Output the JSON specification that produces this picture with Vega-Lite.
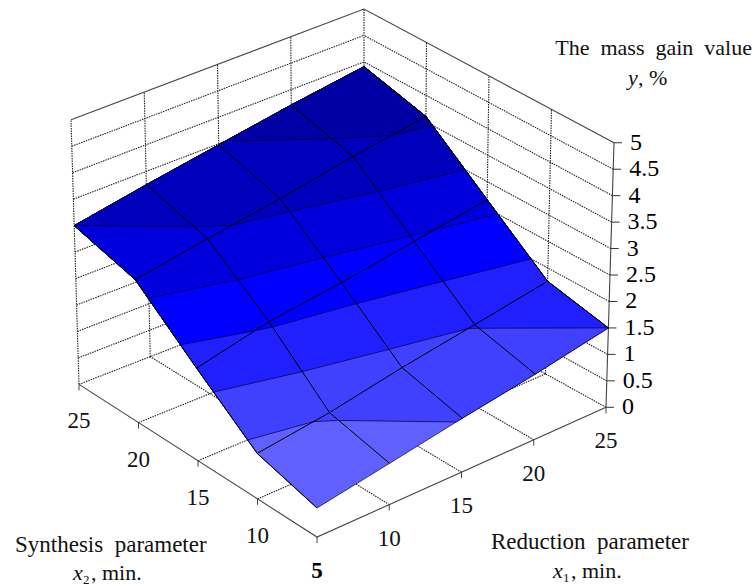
{"$schema":"https://vega.github.io/schema/vega-lite/v6.json","width":755,"height":587,"padding":0,"autosize":{"type":"fit","contains":"padding"},"background":"white","view":{"stroke":null},
"datasets":{
"surfaceBands":[
{"band":"0.5","s":1,"x1":5,"x2":5,"y":0.55},{"band":"0.5","s":2,"x1":10,"x2":5,"y":0.78},{"band":"0.5","s":3,"x1":15,"x2":5,"y":1.02},{"band":"0.5","s":4,"x1":20,"x2":5,"y":1.24},{"band":"0.5","s":5,"x1":25,"x2":5,"y":1.5},{"band":"0.5","s":6,"x1":25,"x2":10,"y":1.75},{"band":"0.5","s":7,"x1":25,"x2":15,"y":2.66},{"band":"0.5","s":8,"x1":25,"x2":20,"y":3.6},{"band":"0.5","s":9,"x1":25,"x2":25,"y":3.91},{"band":"0.5","s":10,"x1":20,"x2":25,"y":3.71},{"band":"0.5","s":11,"x1":15,"x2":25,"y":3.48},{"band":"0.5","s":12,"x1":10,"x2":25,"y":3.25},{"band":"0.5","s":13,"x1":5,"x2":25,"y":3},{"band":"0.5","s":14,"x1":5,"x2":20,"y":2.7},{"band":"0.5","s":15,"x1":5,"x2":15,"y":1.75},{"band":"0.5","s":16,"x1":5,"x2":10,"y":0.86},
{"band":"1","s":1,"x1":5,"x2":10.785,"y":1},{"band":"1","s":2,"x1":8.89,"x2":10,"y":1},{"band":"1","s":3,"x1":10,"x2":9.23,"y":1},{"band":"1","s":4,"x1":14.585,"x2":5,"y":1},{"band":"1","s":5,"x1":15,"x2":5,"y":1.02},{"band":"1","s":6,"x1":20,"x2":5,"y":1.24},{"band":"1","s":7,"x1":25,"x2":5,"y":1.5},{"band":"1","s":8,"x1":25,"x2":10,"y":1.75},{"band":"1","s":9,"x1":25,"x2":15,"y":2.66},{"band":"1","s":10,"x1":25,"x2":20,"y":3.6},{"band":"1","s":11,"x1":25,"x2":25,"y":3.91},{"band":"1","s":12,"x1":20,"x2":25,"y":3.71},{"band":"1","s":13,"x1":15,"x2":25,"y":3.48},{"band":"1","s":14,"x1":10,"x2":25,"y":3.25},{"band":"1","s":15,"x1":5,"x2":25,"y":3},{"band":"1","s":16,"x1":5,"x2":20,"y":2.7},{"band":"1","s":17,"x1":5,"x2":15,"y":1.75},
{"band":"1.5","s":1,"x1":5,"x2":13.595,"y":1.5},{"band":"1.5","s":2,"x1":10,"x2":12.255,"y":1.5},{"band":"1.5","s":3,"x1":15,"x2":11.075,"y":1.5},{"band":"1.5","s":4,"x1":19.545,"x2":10,"y":1.5},{"band":"1.5","s":5,"x1":20,"x2":9.645,"y":1.5},{"band":"1.5","s":6,"x1":25,"x2":5,"y":1.5},{"band":"1.5","s":7,"x1":25,"x2":10,"y":1.75},{"band":"1.5","s":8,"x1":25,"x2":15,"y":2.66},{"band":"1.5","s":9,"x1":25,"x2":20,"y":3.6},{"band":"1.5","s":10,"x1":25,"x2":25,"y":3.91},{"band":"1.5","s":11,"x1":20,"x2":25,"y":3.71},{"band":"1.5","s":12,"x1":15,"x2":25,"y":3.48},{"band":"1.5","s":13,"x1":10,"x2":25,"y":3.25},{"band":"1.5","s":14,"x1":5,"x2":25,"y":3},{"band":"1.5","s":15,"x1":5,"x2":20,"y":2.7},{"band":"1.5","s":16,"x1":5,"x2":15,"y":1.75},
{"band":"2","s":1,"x1":5,"x2":16.315,"y":2},{"band":"2","s":2,"x1":9.03,"x2":15,"y":2},{"band":"2","s":3,"x1":10,"x2":14.705,"y":2},{"band":"2","s":4,"x1":15,"x2":13.765,"y":2},{"band":"2","s":5,"x1":20,"x2":12.61,"y":2},{"band":"2","s":6,"x1":25,"x2":11.375,"y":2},{"band":"2","s":7,"x1":25,"x2":15,"y":2.66},{"band":"2","s":8,"x1":25,"x2":20,"y":3.6},{"band":"2","s":9,"x1":25,"x2":25,"y":3.91},{"band":"2","s":10,"x1":20,"x2":25,"y":3.71},{"band":"2","s":11,"x1":15,"x2":25,"y":3.48},{"band":"2","s":12,"x1":10,"x2":25,"y":3.25},{"band":"2","s":13,"x1":5,"x2":25,"y":3},{"band":"2","s":14,"x1":5,"x2":20,"y":2.7},
{"band":"2.5","s":1,"x1":5,"x2":18.945,"y":2.5},{"band":"2.5","s":2,"x1":10,"x2":17.53,"y":2.5},{"band":"2.5","s":3,"x1":15,"x2":16.485,"y":2.5},{"band":"2.5","s":4,"x1":20,"x2":15.315,"y":2.5},{"band":"2.5","s":5,"x1":21.365,"x2":15,"y":2.5},{"band":"2.5","s":6,"x1":25,"x2":14.12,"y":2.5},{"band":"2.5","s":7,"x1":25,"x2":15,"y":2.66},{"band":"2.5","s":8,"x1":25,"x2":20,"y":3.6},{"band":"2.5","s":9,"x1":25,"x2":25,"y":3.91},{"band":"2.5","s":10,"x1":20,"x2":25,"y":3.71},{"band":"2.5","s":11,"x1":15,"x2":25,"y":3.48},{"band":"2.5","s":12,"x1":10,"x2":25,"y":3.25},{"band":"2.5","s":13,"x1":5,"x2":25,"y":3},{"band":"2.5","s":14,"x1":5,"x2":20,"y":2.7},
{"band":"3","s":1,"x1":5,"x2":25,"y":3},{"band":"3","s":2,"x1":10,"x2":21.095,"y":3},{"band":"3","s":3,"x1":11.665,"x2":20,"y":3},{"band":"3","s":4,"x1":15,"x2":19.23,"y":3},{"band":"3","s":5,"x1":20,"x2":17.945,"y":3},{"band":"3","s":6,"x1":25,"x2":16.81,"y":3},{"band":"3","s":7,"x1":25,"x2":20,"y":3.6},{"band":"3","s":8,"x1":25,"x2":25,"y":3.91},{"band":"3","s":9,"x1":20,"x2":25,"y":3.71},{"band":"3","s":10,"x1":15,"x2":25,"y":3.48},{"band":"3","s":11,"x1":10,"x2":25,"y":3.25},
{"band":"3.5","s":1,"x1":15.435,"x2":25,"y":3.5},{"band":"3.5","s":2,"x1":20,"x2":21.72,"y":3.5},{"band":"3.5","s":3,"x1":22.62,"x2":20,"y":3.5},{"band":"3.5","s":4,"x1":25,"x2":19.47,"y":3.5},{"band":"3.5","s":5,"x1":25,"x2":20,"y":3.6},{"band":"3.5","s":6,"x1":25,"x2":25,"y":3.91},{"band":"3.5","s":7,"x1":20,"x2":25,"y":3.71}
],
"surfaceGrid":[
{"g":"a5","s":1,"x1":5,"x2":5,"y":0.55},{"g":"a5","s":2,"x1":5,"x2":10,"y":0.86},{"g":"a5","s":3,"x1":5,"x2":15,"y":1.75},{"g":"a5","s":4,"x1":5,"x2":20,"y":2.7},{"g":"a5","s":5,"x1":5,"x2":25,"y":3},
{"g":"a10","s":1,"x1":10,"x2":5,"y":0.78},{"g":"a10","s":2,"x1":10,"x2":10,"y":1.04},{"g":"a10","s":3,"x1":10,"x2":15,"y":2.06},{"g":"a10","s":4,"x1":10,"x2":20,"y":2.93},{"g":"a10","s":5,"x1":10,"x2":25,"y":3.25},
{"g":"a15","s":1,"x1":15,"x2":5,"y":1.02},{"g":"a15","s":2,"x1":15,"x2":10,"y":1.3},{"g":"a15","s":3,"x1":15,"x2":15,"y":2.23},{"g":"a15","s":4,"x1":15,"x2":20,"y":3.14},{"g":"a15","s":5,"x1":15,"x2":25,"y":3.48},
{"g":"a20","s":1,"x1":20,"x2":5,"y":1.24},{"g":"a20","s":2,"x1":20,"x2":10,"y":1.52},{"g":"a20","s":3,"x1":20,"x2":15,"y":2.44},{"g":"a20","s":4,"x1":20,"x2":20,"y":3.39},{"g":"a20","s":5,"x1":20,"x2":25,"y":3.71},
{"g":"a25","s":1,"x1":25,"x2":5,"y":1.5},{"g":"a25","s":2,"x1":25,"x2":10,"y":1.75},{"g":"a25","s":3,"x1":25,"x2":15,"y":2.66},{"g":"a25","s":4,"x1":25,"x2":20,"y":3.6},{"g":"a25","s":5,"x1":25,"x2":25,"y":3.91},
{"g":"b10","s":1,"x1":5,"x2":10,"y":0.86},{"g":"b10","s":2,"x1":10,"x2":10,"y":1.04},{"g":"b10","s":3,"x1":15,"x2":10,"y":1.3},{"g":"b10","s":4,"x1":20,"x2":10,"y":1.52},{"g":"b10","s":5,"x1":25,"x2":10,"y":1.75},
{"g":"b15","s":1,"x1":5,"x2":15,"y":1.75},{"g":"b15","s":2,"x1":10,"x2":15,"y":2.06},{"g":"b15","s":3,"x1":15,"x2":15,"y":2.23},{"g":"b15","s":4,"x1":20,"x2":15,"y":2.44},{"g":"b15","s":5,"x1":25,"x2":15,"y":2.66},
{"g":"b20","s":1,"x1":5,"x2":20,"y":2.7},{"g":"b20","s":2,"x1":10,"x2":20,"y":2.93},{"g":"b20","s":3,"x1":15,"x2":20,"y":3.14},{"g":"b20","s":4,"x1":20,"x2":20,"y":3.39},{"g":"b20","s":5,"x1":25,"x2":20,"y":3.6}
],
"frame":[
{"g":"lw0.5","s":1,"x1":5,"x2":25,"y":0.5},{"g":"lw0.5","s":2,"x1":25,"x2":25,"y":0.5},{"g":"lw1","s":1,"x1":5,"x2":25,"y":1},{"g":"lw1","s":2,"x1":25,"x2":25,"y":1},{"g":"lw1.5","s":1,"x1":5,"x2":25,"y":1.5},{"g":"lw1.5","s":2,"x1":25,"x2":25,"y":1.5},{"g":"lw2","s":1,"x1":5,"x2":25,"y":2},{"g":"lw2","s":2,"x1":25,"x2":25,"y":2},{"g":"lw2.5","s":1,"x1":5,"x2":25,"y":2.5},{"g":"lw2.5","s":2,"x1":25,"x2":25,"y":2.5},{"g":"lw3","s":1,"x1":5,"x2":25,"y":3},{"g":"lw3","s":2,"x1":25,"x2":25,"y":3},{"g":"lw3.5","s":1,"x1":5,"x2":25,"y":3.5},{"g":"lw3.5","s":2,"x1":25,"x2":25,"y":3.5},{"g":"lw4","s":1,"x1":5,"x2":25,"y":4},{"g":"lw4","s":2,"x1":25,"x2":25,"y":4},{"g":"lw4.5","s":1,"x1":5,"x2":25,"y":4.5},{"g":"lw4.5","s":2,"x1":25,"x2":25,"y":4.5},{"g":"lw0","s":1,"x1":5,"x2":25,"y":0},{"g":"lw0","s":2,"x1":25,"x2":25,"y":0},
{"g":"rw0.5","s":1,"x1":25,"x2":5,"y":0.5},{"g":"rw0.5","s":2,"x1":25,"x2":25,"y":0.5},{"g":"rw1","s":1,"x1":25,"x2":5,"y":1},{"g":"rw1","s":2,"x1":25,"x2":25,"y":1},{"g":"rw1.5","s":1,"x1":25,"x2":5,"y":1.5},{"g":"rw1.5","s":2,"x1":25,"x2":25,"y":1.5},{"g":"rw2","s":1,"x1":25,"x2":5,"y":2},{"g":"rw2","s":2,"x1":25,"x2":25,"y":2},{"g":"rw2.5","s":1,"x1":25,"x2":5,"y":2.5},{"g":"rw2.5","s":2,"x1":25,"x2":25,"y":2.5},{"g":"rw3","s":1,"x1":25,"x2":5,"y":3},{"g":"rw3","s":2,"x1":25,"x2":25,"y":3},{"g":"rw3.5","s":1,"x1":25,"x2":5,"y":3.5},{"g":"rw3.5","s":2,"x1":25,"x2":25,"y":3.5},{"g":"rw4","s":1,"x1":25,"x2":5,"y":4},{"g":"rw4","s":2,"x1":25,"x2":25,"y":4},{"g":"rw4.5","s":1,"x1":25,"x2":5,"y":4.5},{"g":"rw4.5","s":2,"x1":25,"x2":25,"y":4.5},{"g":"rw0","s":1,"x1":25,"x2":5,"y":0},{"g":"rw0","s":2,"x1":25,"x2":25,"y":0},
{"g":"lv5","s":1,"x1":5,"x2":25,"y":0},{"g":"lv5","s":2,"x1":5,"x2":25,"y":5},{"g":"lv10","s":1,"x1":10,"x2":25,"y":0},{"g":"lv10","s":2,"x1":10,"x2":25,"y":5},{"g":"lv15","s":1,"x1":15,"x2":25,"y":0},{"g":"lv15","s":2,"x1":15,"x2":25,"y":5},{"g":"lv20","s":1,"x1":20,"x2":25,"y":0},{"g":"lv20","s":2,"x1":20,"x2":25,"y":5},{"g":"lv25","s":1,"x1":25,"x2":25,"y":0},{"g":"lv25","s":2,"x1":25,"x2":25,"y":5},
{"g":"rv10","s":1,"x1":25,"x2":10,"y":0},{"g":"rv10","s":2,"x1":25,"x2":10,"y":5},{"g":"rv15","s":1,"x1":25,"x2":15,"y":0},{"g":"rv15","s":2,"x1":25,"x2":15,"y":5},{"g":"rv20","s":1,"x1":25,"x2":20,"y":0},{"g":"rv20","s":2,"x1":25,"x2":20,"y":5},
{"g":"fa10","s":1,"x1":10,"x2":5,"y":0},{"g":"fa10","s":2,"x1":10,"x2":25,"y":0},{"g":"fa15","s":1,"x1":15,"x2":5,"y":0},{"g":"fa15","s":2,"x1":15,"x2":25,"y":0},{"g":"fa20","s":1,"x1":20,"x2":5,"y":0},{"g":"fa20","s":2,"x1":20,"x2":25,"y":0},
{"g":"fb10","s":1,"x1":5,"x2":10,"y":0},{"g":"fb10","s":2,"x1":25,"x2":10,"y":0},{"g":"fb15","s":1,"x1":5,"x2":15,"y":0},{"g":"fb15","s":2,"x1":25,"x2":15,"y":0},{"g":"fb20","s":1,"x1":5,"x2":20,"y":0},{"g":"fb20","s":2,"x1":25,"x2":20,"y":0}
],
"solidFrame":[
{"g":"top1","s":1,"x1":5,"x2":25,"y":5},{"g":"top1","s":2,"x1":25,"x2":25,"y":5},{"g":"top1","s":3,"x1":25,"x2":5,"y":5},
{"g":"front","s":1,"x1":5,"x2":25,"y":0},{"g":"front","s":2,"x1":5,"x2":5,"y":0},{"g":"front","s":3,"x1":25,"x2":5,"y":0},
{"g":"axis","s":1,"x1":25,"x2":5,"y":0},{"g":"axis","s":2,"x1":25,"x2":5,"y":5}
],
"yTicks":[{"x1":25,"x2":5,"y":0,"label":"0"},{"x1":25,"x2":5,"y":0.5,"label":"0.5"},{"x1":25,"x2":5,"y":1,"label":"1"},{"x1":25,"x2":5,"y":1.5,"label":"1.5"},{"x1":25,"x2":5,"y":2,"label":"2"},{"x1":25,"x2":5,"y":2.5,"label":"2.5"},{"x1":25,"x2":5,"y":3,"label":"3"},{"x1":25,"x2":5,"y":3.5,"label":"3.5"},{"x1":25,"x2":5,"y":4,"label":"4"},{"x1":25,"x2":5,"y":4.5,"label":"4.5"},{"x1":25,"x2":5,"y":5,"label":"5"}],
"x1Ticks":[{"x1":10,"x2":5,"y":0,"label":"10"},{"x1":15,"x2":5,"y":0,"label":"15"},{"x1":20,"x2":5,"y":0,"label":"20"},{"x1":25,"x2":5,"y":0,"label":"25"}],
"x2Ticks":[{"x1":5,"x2":10,"y":0,"label":"10"},{"x1":5,"x2":15,"y":0,"label":"15"},{"x1":5,"x2":20,"y":0,"label":"20"},{"x1":5,"x2":25,"y":0,"label":"25"}],
"origin":[{"x1":5,"x2":5,"y":0,"label":"5"}],
"titles":[
{"x1":25,"x2":5,"y":5,"t":"a","label":"The \u00a0mass \u00a0gain \u00a0value"},
{"x1":25,"x2":5,"y":5,"t":"b","label":"y"},
{"x1":25,"x2":5,"y":5,"t":"c","label":", %"},
{"x1":5,"x2":5,"y":0,"t":"d","label":"Synthesis \u00a0parameter"},
{"x1":5,"x2":5,"y":0,"t":"e","label":"x"},
{"x1":5,"x2":5,"y":0,"t":"f","label":"2"},
{"x1":5,"x2":5,"y":0,"t":"g","label":", min."},
{"x1":5,"x2":5,"y":0,"t":"h","label":"Reduction \u00a0parameter"},
{"x1":5,"x2":5,"y":0,"t":"i","label":"x"},
{"x1":5,"x2":5,"y":0,"t":"j","label":"1"},
{"x1":5,"x2":5,"y":0,"t":"k","label":", min."}
]
},
"encoding":{
"x":{"field":"px","type":"quantitative","scale":{"domain":[0,755],"nice":false,"zero":false},"axis":null},
"y":{"field":"py","type":"quantitative","scale":{"domain":[587,0],"nice":false,"zero":false},"axis":null}
},
"layer":[
{"data":{"name":"frame"},"transform":[{"calculate":"(datum.x1-5)/20","as":"u"},{"calculate":"(datum.x2-5)/20","as":"v"},{"calculate":"317+289*datum.u-238*datum.v-4*datum.u*datum.v+(datum.u-datum.v)*8*datum.y/5","as":"px"},{"calculate":"538-130*datum.u-153*datum.v+19*datum.u*datum.v-53*datum.y","as":"py"}],
"mark":{"type":"line","stroke":"#222222","strokeWidth":1.1,"strokeDash":[1.5,1]},"encoding":{"detail":{"field":"g"},"order":{"field":"s","type":"quantitative"}}},
{"data":{"name":"solidFrame"},"transform":[{"calculate":"(datum.x1-5)/20","as":"u"},{"calculate":"(datum.x2-5)/20","as":"v"},{"calculate":"317+289*datum.u-238*datum.v-4*datum.u*datum.v+(datum.u-datum.v)*8*datum.y/5","as":"px"},{"calculate":"538-130*datum.u-153*datum.v+19*datum.u*datum.v-53*datum.y","as":"py"}],
"mark":{"type":"line","stroke":"#444444","strokeWidth":1.1},"encoding":{"detail":{"field":"g"},"order":{"field":"s","type":"quantitative"}}},
{"data":{"name":"surfaceBands"},"transform":[{"calculate":"(datum.x1-5)/20","as":"u"},{"calculate":"(datum.x2-5)/20","as":"v"},{"calculate":"317+289*datum.u-238*datum.v-4*datum.u*datum.v+(datum.u-datum.v)*8*datum.y/5","as":"px"},{"calculate":"538-130*datum.u-153*datum.v+19*datum.u*datum.v-53*datum.y","as":"py"}],
"mark":{"type":"line","interpolate":"linear-closed","stroke":"#000033","strokeWidth":0.7},
"encoding":{"fill":{"field":"band","type":"nominal","sort":null,"scale":{"domain":["0.5","1","1.5","2","2.5","3","3.5"],"range":["#6060ff","#4040ff","#2020ff","#0000ff","#0000dc","#0000bc","#0000a4"]},"legend":null},"detail":{"field":"band"},"order":{"field":"s","type":"quantitative"}}},
{"data":{"name":"surfaceGrid"},"transform":[{"calculate":"(datum.x1-5)/20","as":"u"},{"calculate":"(datum.x2-5)/20","as":"v"},{"calculate":"317+289*datum.u-238*datum.v-4*datum.u*datum.v+(datum.u-datum.v)*8*datum.y/5","as":"px"},{"calculate":"538-130*datum.u-153*datum.v+19*datum.u*datum.v-53*datum.y","as":"py"}],
"mark":{"type":"line","stroke":"#000000","strokeWidth":1},"encoding":{"detail":{"field":"g"},"order":{"field":"s","type":"quantitative"}}},
{"data":{"name":"yTicks"},"transform":[{"calculate":"(datum.x1-5)/20","as":"u"},{"calculate":"(datum.x2-5)/20","as":"v"},{"calculate":"317+289*datum.u-238*datum.v-4*datum.u*datum.v+(datum.u-datum.v)*8*datum.y/5","as":"px"},{"calculate":"538-130*datum.u-153*datum.v+19*datum.u*datum.v-53*datum.y","as":"py"}],
"mark":{"type":"point","shape":"M0 0H1","size":256,"stroke":"#333333","strokeWidth":1,"filled":false,"opacity":1}},
{"data":{"name":"yTicks"},"transform":[{"calculate":"(datum.x1-5)/20","as":"u"},{"calculate":"(datum.x2-5)/20","as":"v"},{"calculate":"317+289*datum.u-238*datum.v-4*datum.u*datum.v+(datum.u-datum.v)*8*datum.y/5","as":"px"},{"calculate":"538-130*datum.u-153*datum.v+19*datum.u*datum.v-53*datum.y","as":"py"}],
"mark":{"type":"text","font":"Liberation Serif","fontSize":24,"align":"left","baseline":"middle","dx":16,"color":"#000000"},"encoding":{"text":{"field":"label"}}},
{"data":{"name":"x1Ticks"},"transform":[{"calculate":"(datum.x1-5)/20","as":"u"},{"calculate":"(datum.x2-5)/20","as":"v"},{"calculate":"317+289*datum.u-238*datum.v-4*datum.u*datum.v+(datum.u-datum.v)*8*datum.y/5","as":"px"},{"calculate":"538-130*datum.u-153*datum.v+19*datum.u*datum.v-53*datum.y","as":"py"}],
"mark":{"type":"point","shape":"M0 0V1","size":144,"stroke":"#444444","strokeWidth":1,"filled":false,"opacity":1}},
{"data":{"name":"x1Ticks"},"transform":[{"calculate":"(datum.x1-5)/20","as":"u"},{"calculate":"(datum.x2-5)/20","as":"v"},{"calculate":"317+289*datum.u-238*datum.v-4*datum.u*datum.v+(datum.u-datum.v)*8*datum.y/5","as":"px"},{"calculate":"538-130*datum.u-153*datum.v+19*datum.u*datum.v-53*datum.y","as":"py"}],
"mark":{"type":"text","font":"Liberation Serif","fontSize":23,"align":"center","baseline":"middle","dy":34,"color":"#111111"},"encoding":{"text":{"field":"label"}}},
{"data":{"name":"x2Ticks"},"transform":[{"calculate":"(datum.x1-5)/20","as":"u"},{"calculate":"(datum.x2-5)/20","as":"v"},{"calculate":"317+289*datum.u-238*datum.v-4*datum.u*datum.v+(datum.u-datum.v)*8*datum.y/5","as":"px"},{"calculate":"538-130*datum.u-153*datum.v+19*datum.u*datum.v-53*datum.y","as":"py"}],
"mark":{"type":"point","shape":"M0 0V1","size":144,"stroke":"#444444","strokeWidth":1,"filled":false,"opacity":1}},
{"data":{"name":"x2Ticks"},"transform":[{"calculate":"(datum.x1-5)/20","as":"u"},{"calculate":"(datum.x2-5)/20","as":"v"},{"calculate":"317+289*datum.u-238*datum.v-4*datum.u*datum.v+(datum.u-datum.v)*8*datum.y/5","as":"px"},{"calculate":"538-130*datum.u-153*datum.v+19*datum.u*datum.v-53*datum.y","as":"py"}],
"mark":{"type":"text","font":"Liberation Serif","fontSize":23,"align":"center","baseline":"middle","dy":37,"color":"#111111"},"encoding":{"text":{"field":"label"}}},
{"data":{"name":"origin"},"transform":[{"calculate":"(datum.x1-5)/20","as":"u"},{"calculate":"(datum.x2-5)/20","as":"v"},{"calculate":"317+289*datum.u-238*datum.v-4*datum.u*datum.v+(datum.u-datum.v)*8*datum.y/5","as":"px"},{"calculate":"538-130*datum.u-153*datum.v+19*datum.u*datum.v-53*datum.y","as":"py"}],
"mark":{"type":"point","shape":"M0 0V1","size":144,"stroke":"#444444","strokeWidth":1,"filled":false,"opacity":1}},
{"data":{"name":"origin"},"transform":[{"calculate":"(datum.x1-5)/20","as":"u"},{"calculate":"(datum.x2-5)/20","as":"v"},{"calculate":"317+289*datum.u-238*datum.v-4*datum.u*datum.v+(datum.u-datum.v)*8*datum.y/5","as":"px"},{"calculate":"538-130*datum.u-153*datum.v+19*datum.u*datum.v-53*datum.y","as":"py"}],
"mark":{"type":"text","font":"Liberation Serif","fontSize":23,"fontWeight":"bold","align":"center","baseline":"middle","dy":34,"color":"#000000"},"encoding":{"text":{"field":"label"}}},
{"data":{"name":"titles"},"transform":[{"filter":"datum.t==='a'"},{"calculate":"(datum.x1-5)/20","as":"u"},{"calculate":"(datum.x2-5)/20","as":"v"},{"calculate":"317+289*datum.u-238*datum.v-4*datum.u*datum.v+(datum.u-datum.v)*8*datum.y/5","as":"px"},{"calculate":"538-130*datum.u-153*datum.v+19*datum.u*datum.v-53*datum.y","as":"py"}],"mark":{"type":"text","font":"Liberation Serif","fontSize":22,"align":"right","baseline":"middle","dx":138,"dy":-95,"color":"#111111"},"encoding":{"text":{"field":"label"}}},
{"data":{"name":"titles"},"transform":[{"filter":"datum.t==='b'"},{"calculate":"(datum.x1-5)/20","as":"u"},{"calculate":"(datum.x2-5)/20","as":"v"},{"calculate":"317+289*datum.u-238*datum.v-4*datum.u*datum.v+(datum.u-datum.v)*8*datum.y/5","as":"px"},{"calculate":"538-130*datum.u-153*datum.v+19*datum.u*datum.v-53*datum.y","as":"py"}],"mark":{"type":"text","font":"Liberation Serif","fontSize":22,"fontStyle":"italic","align":"left","baseline":"middle","dx":14,"dy":-65,"color":"#111111"},"encoding":{"text":{"field":"label"}}},
{"data":{"name":"titles"},"transform":[{"filter":"datum.t==='c'"},{"calculate":"(datum.x1-5)/20","as":"u"},{"calculate":"(datum.x2-5)/20","as":"v"},{"calculate":"317+289*datum.u-238*datum.v-4*datum.u*datum.v+(datum.u-datum.v)*8*datum.y/5","as":"px"},{"calculate":"538-130*datum.u-153*datum.v+19*datum.u*datum.v-53*datum.y","as":"py"}],"mark":{"type":"text","font":"Liberation Serif","fontSize":22,"align":"left","baseline":"middle","dx":24,"dy":-65,"color":"#111111"},"encoding":{"text":{"field":"label"}}},
{"data":{"name":"titles"},"transform":[{"filter":"datum.t==='d'"},{"calculate":"(datum.x1-5)/20","as":"u"},{"calculate":"(datum.x2-5)/20","as":"v"},{"calculate":"317+289*datum.u-238*datum.v-4*datum.u*datum.v+(datum.u-datum.v)*8*datum.y/5","as":"px"},{"calculate":"538-130*datum.u-153*datum.v+19*datum.u*datum.v-53*datum.y","as":"py"}],"mark":{"type":"text","font":"Liberation Serif","fontSize":23,"align":"left","baseline":"middle","dx":-302,"dy":8,"color":"#111111"},"encoding":{"text":{"field":"label"}}},
{"data":{"name":"titles"},"transform":[{"filter":"datum.t==='e'"},{"calculate":"(datum.x1-5)/20","as":"u"},{"calculate":"(datum.x2-5)/20","as":"v"},{"calculate":"317+289*datum.u-238*datum.v-4*datum.u*datum.v+(datum.u-datum.v)*8*datum.y/5","as":"px"},{"calculate":"538-130*datum.u-153*datum.v+19*datum.u*datum.v-53*datum.y","as":"py"}],"mark":{"type":"text","font":"Liberation Serif","fontSize":22,"fontStyle":"italic","align":"left","baseline":"middle","dx":-244,"dy":36,"color":"#111111"},"encoding":{"text":{"field":"label"}}},
{"data":{"name":"titles"},"transform":[{"filter":"datum.t==='f'"},{"calculate":"(datum.x1-5)/20","as":"u"},{"calculate":"(datum.x2-5)/20","as":"v"},{"calculate":"317+289*datum.u-238*datum.v-4*datum.u*datum.v+(datum.u-datum.v)*8*datum.y/5","as":"px"},{"calculate":"538-130*datum.u-153*datum.v+19*datum.u*datum.v-53*datum.y","as":"py"}],"mark":{"type":"text","font":"Liberation Serif","fontSize":13,"align":"left","baseline":"middle","dx":-234,"dy":43,"color":"#111111"},"encoding":{"text":{"field":"label"}}},
{"data":{"name":"titles"},"transform":[{"filter":"datum.t==='g'"},{"calculate":"(datum.x1-5)/20","as":"u"},{"calculate":"(datum.x2-5)/20","as":"v"},{"calculate":"317+289*datum.u-238*datum.v-4*datum.u*datum.v+(datum.u-datum.v)*8*datum.y/5","as":"px"},{"calculate":"538-130*datum.u-153*datum.v+19*datum.u*datum.v-53*datum.y","as":"py"}],"mark":{"type":"text","font":"Liberation Serif","fontSize":22,"align":"left","baseline":"middle","dx":-226,"dy":36,"color":"#111111"},"encoding":{"text":{"field":"label"}}},
{"data":{"name":"titles"},"transform":[{"filter":"datum.t==='h'"},{"calculate":"(datum.x1-5)/20","as":"u"},{"calculate":"(datum.x2-5)/20","as":"v"},{"calculate":"317+289*datum.u-238*datum.v-4*datum.u*datum.v+(datum.u-datum.v)*8*datum.y/5","as":"px"},{"calculate":"538-130*datum.u-153*datum.v+19*datum.u*datum.v-53*datum.y","as":"py"}],"mark":{"type":"text","font":"Liberation Serif","fontSize":23,"align":"left","baseline":"middle","dx":174,"dy":5,"color":"#111111"},"encoding":{"text":{"field":"label"}}},
{"data":{"name":"titles"},"transform":[{"filter":"datum.t==='i'"},{"calculate":"(datum.x1-5)/20","as":"u"},{"calculate":"(datum.x2-5)/20","as":"v"},{"calculate":"317+289*datum.u-238*datum.v-4*datum.u*datum.v+(datum.u-datum.v)*8*datum.y/5","as":"px"},{"calculate":"538-130*datum.u-153*datum.v+19*datum.u*datum.v-53*datum.y","as":"py"}],"mark":{"type":"text","font":"Liberation Serif","fontSize":22,"fontStyle":"italic","align":"left","baseline":"middle","dx":236,"dy":34,"color":"#111111"},"encoding":{"text":{"field":"label"}}},
{"data":{"name":"titles"},"transform":[{"filter":"datum.t==='j'"},{"calculate":"(datum.x1-5)/20","as":"u"},{"calculate":"(datum.x2-5)/20","as":"v"},{"calculate":"317+289*datum.u-238*datum.v-4*datum.u*datum.v+(datum.u-datum.v)*8*datum.y/5","as":"px"},{"calculate":"538-130*datum.u-153*datum.v+19*datum.u*datum.v-53*datum.y","as":"py"}],"mark":{"type":"text","font":"Liberation Serif","fontSize":13,"align":"left","baseline":"middle","dx":246,"dy":41,"color":"#111111"},"encoding":{"text":{"field":"label"}}},
{"data":{"name":"titles"},"transform":[{"filter":"datum.t==='k'"},{"calculate":"(datum.x1-5)/20","as":"u"},{"calculate":"(datum.x2-5)/20","as":"v"},{"calculate":"317+289*datum.u-238*datum.v-4*datum.u*datum.v+(datum.u-datum.v)*8*datum.y/5","as":"px"},{"calculate":"538-130*datum.u-153*datum.v+19*datum.u*datum.v-53*datum.y","as":"py"}],"mark":{"type":"text","font":"Liberation Serif","fontSize":22,"align":"left","baseline":"middle","dx":254,"dy":34,"color":"#111111"},"encoding":{"text":{"field":"label"}}}
]}
